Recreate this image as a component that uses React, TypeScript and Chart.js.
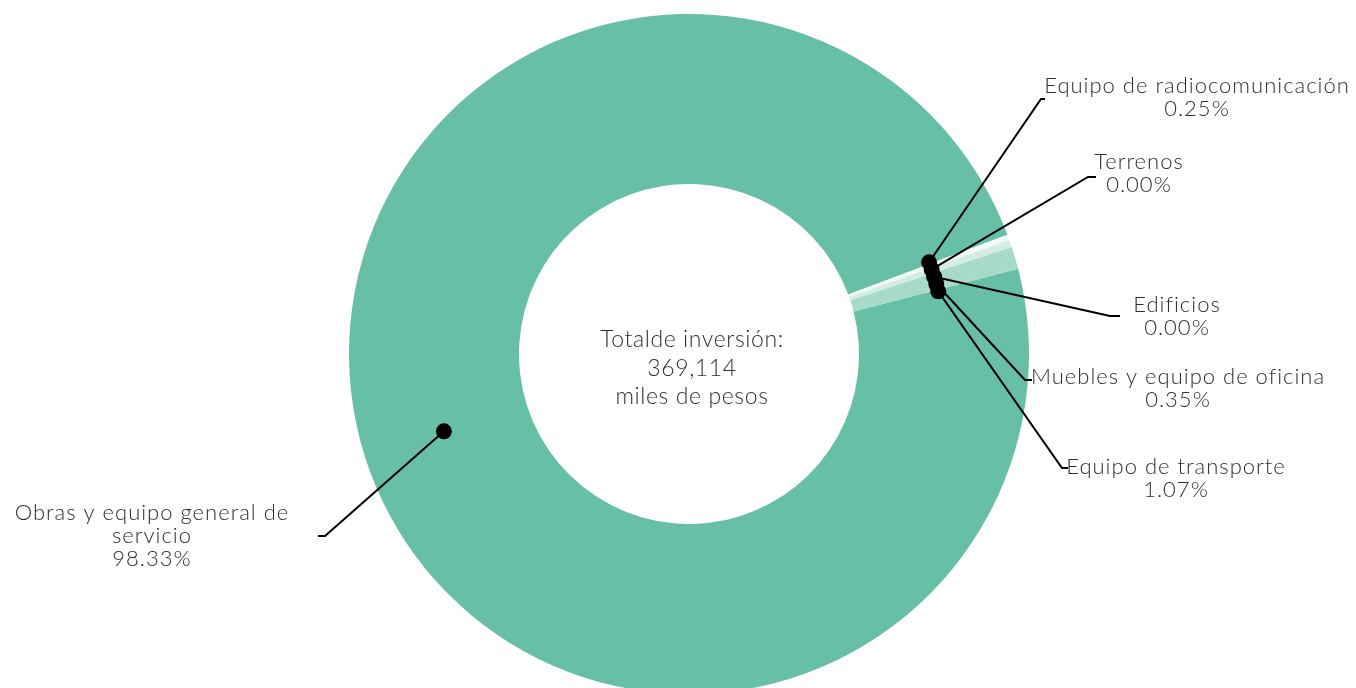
import React, { useEffect, useRef } from "react";
import { Chart, registerables } from "chart.js";

Chart.register(...registerables);

const categories = [
  "Obras y equipo general de servicio",
  "Equipo de radiocomunicación",
  "Terrenos",
  "Edificios",
  "Muebles y equipo de oficina",
  "Equipo de transporte",
];
const values = [98.33, 0.25, 0.0, 0.0, 0.35, 1.07];
const percentLabels = ["98.33%", "0.25%", "0.00%", "0.00%", "0.35%", "1.07%"];
const labelLines = [
  ["Obras y equipo general de", "servicio"],
  ["Equipo de radiocomunicación"],
  ["Terrenos"],
  ["Edificios"],
  ["Muebles y equipo de oficina"],
  ["Equipo de transporte"],
];
const centerLines = ["Totalde inversión:", "369,114", "miles de pesos"];
const sliceColors = ["#67bfa8", "#f1f9f6", "#d6efe7", "#d6efe7", "#d3ede5", "#a7dacb"];

const FONT = "Lato, 'Noto Sans', sans-serif";

// label layout relative to chart centre: text centre x, first-line y, elbow, end of tick
const labelLayout = [
  { tx: -537, ty: 159, ex: -364, ey: 182, hx: -371 },
  { tx: 508, ty: -268, ex: 352, ey: -255, hx: 356 },
  { tx: 450, ty: -192, ex: 399, ey: -177, hx: 407 },
  { tx: 488, ty: -49, ex: 421, ey: -38, hx: 431 },
  { tx: 489, ty: 23, ex: 336, ey: 26, hx: 343 },
  { tx: 487, ty: 113, ex: 373, ey: 114, hx: 379 },
];

const labelPlugin = {
  id: "calloutLabels",
  afterDraw(chart: any) {
    const ctx = chart.ctx;
    const meta = chart.getDatasetMeta(0);
    const arcs = meta.data.map((a: any) =>
      a.getProps(["x", "y", "startAngle", "endAngle", "innerRadius", "outerRadius"], true)
    );
    if (!arcs.length) return;
    const cx = arcs[0].x;
    const cy = arcs[0].y;
    const total = values.reduce((s, v) => s + v, 0);

    // angles of the dots: group small consecutive slices and spread them
    const angles: number[] = arcs.map((a: any) => (a.startAngle + a.endAngle) / 2);
    const step = (1.7 * Math.PI) / 180;
    let i = 0;
    while (i < arcs.length) {
      if (values[i] / total < 0.05) {
        let j = i;
        while (j + 1 < arcs.length && values[j + 1] / total < 0.05) j++;
        const s = arcs[i].startAngle;
        const e = arcs[j].endAngle;
        const c = (s + e) / 2;
        const n = j - i + 1;
        for (let k = i; k <= j; k++) angles[k] = c + (k - i - (n - 1) / 2) * step;
        i = j + 1;
      } else i++;
    }

    ctx.save();
    ctx.strokeStyle = "#000";
    ctx.lineWidth = 2;
    arcs.forEach((a: any, idx: number) => {
      const r = (a.innerRadius + a.outerRadius) / 2 + 2;
      const dx = cx + r * Math.cos(angles[idx]);
      const dy = cy + r * Math.sin(angles[idx]);
      const L = labelLayout[idx];
      ctx.beginPath();
      ctx.moveTo(dx, dy);
      ctx.lineTo(cx + L.ex, cy + L.ey);
      ctx.lineTo(cx + L.hx, cy + L.ey);
      ctx.stroke();
    });
    ctx.fillStyle = "#000";
    arcs.forEach((a: any, idx: number) => {
      const r = (a.innerRadius + a.outerRadius) / 2 + 2;
      const dx = cx + r * Math.cos(angles[idx]);
      const dy = cy + r * Math.sin(angles[idx]);
      ctx.beginPath();
      ctx.arc(dx, dy, 8, 0, Math.PI * 2);
      ctx.fill();
    });
    ctx.fillStyle = "#2f2f2f";
    ctx.font = `300 22px ${FONT}`;
    (ctx as any).letterSpacing = "1px";
    ctx.textAlign = "center";
    ctx.textBaseline = "middle";
    categories.forEach((_c, idx) => {
      const L = labelLayout[idx];
      const lines = [...labelLines[idx], percentLabels[idx]];
      lines.forEach((t, k) => {
        ctx.fillText(t, cx + L.tx, cy + L.ty + k * 23);
      });
    });
    ctx.font = `300 23px ${FONT}`;
    (ctx as any).letterSpacing = "0.6px";
    centerLines.forEach((t, k) => {
      ctx.fillText(t, cx + 3, cy - 14 + k * 28.5);
    });
    ctx.restore();
  },
};

export default function App() {
  const ref = useRef<HTMLCanvasElement>(null);
  useEffect(() => {
    document.body.style.margin = "0";
    if (!ref.current) return;
    const chart = new Chart(ref.current, {
      type: "doughnut",
      data: {
        labels: categories,
        datasets: [
          {
            data: values,
            backgroundColor: sliceColors,
            borderWidth: 0,
            hoverOffset: 0,
          },
        ],
      },
      options: {
        responsive: false,
        animation: false,
        rotation: 75.5,
        cutout: "50%",
        layout: { padding: { left: 349, right: 327, top: 14, bottom: 6 } },
        plugins: {
          legend: { display: false },
          tooltip: { enabled: false },
        },
      },
      plugins: [labelPlugin],
    });
    return () => chart.destroy();
  }, []);
  return (
    <div
      style={{
        position: "fixed",
        left: 0,
        top: 0,
        width: 1356,
        height: 688,
        overflow: "hidden",
        background: "#fff",
      }}
    >
      <canvas ref={ref} width={1356} height={700} style={{ display: "block" }} />
    </div>
  );
}
